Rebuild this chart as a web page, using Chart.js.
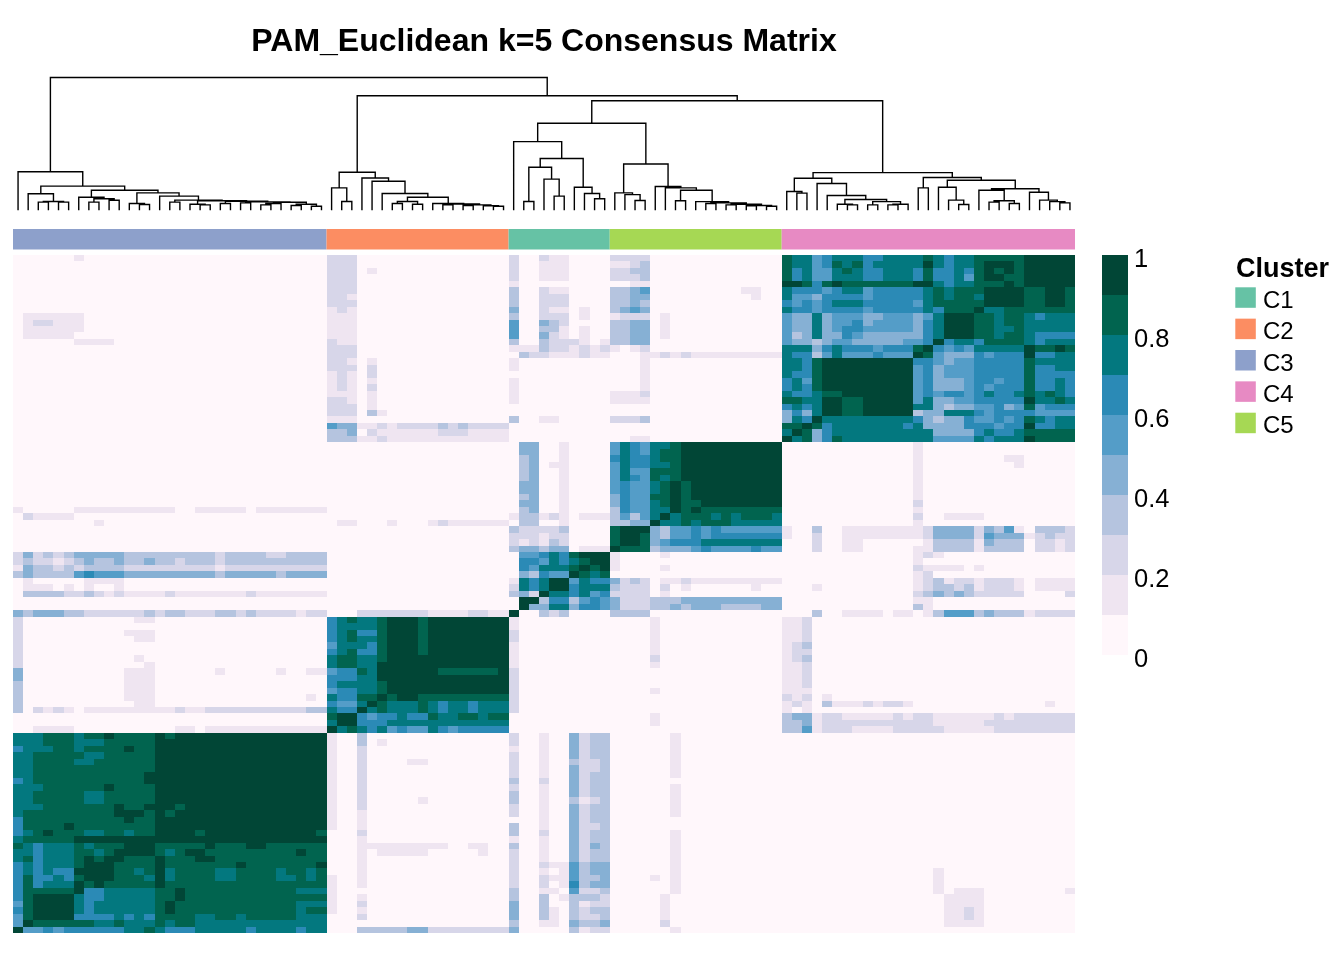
<!DOCTYPE html>
<html>
<head>
<meta charset="utf-8">
<script src="https://cdn.jsdelivr.net/npm/chart.js@4.4.1/dist/chart.umd.min.js"></script>
<style>html,body{margin:0;padding:0;background:#fff;}canvas{display:block;}</style>
</head>
<body>
<canvas id="c" width="1344" height="960"></canvas>
<script>
// ---------------- DATA ----------------
const TITLE = 'PAM_Euclidean k=5 Consensus Matrix';
const LEGEND_TITLE = 'Cluster';
const COLUMN_CLUSTERS = ['C3', 'C2', 'C1', 'C5', 'C4'];   // left -> right
const CLUSTER_SIZES = [31, 18, 10, 17, 29];
const ROW_CLUSTERS = ['C4', 'C5', 'C1', 'C2', 'C3'];      // top -> bottom
const LEGEND_CLUSTERS = ['C1', 'C2', 'C3', 'C4', 'C5'];
const CLUSTER_COLORS = ['#66C2A5', '#FC8D62', '#8DA0CB', '#E78AC3', '#A6D854']; // C1..C5
const LEVEL_COLORS = ['#FFF7FB', '#EFE5F1', '#D7D6E9', '#B5C4DF', '#86B0D4',
                      '#549DC8', '#2B8AB6', '#03787F', '#01644F', '#014636'];
const COLORBAR_TICKS = [0, 0.2, 0.4, 0.6, 0.8, 1];
const COLORBAR_LABELS = ['0', '0.2', '0.4', '0.6', '0.8', '1'];

// consensus level per cell (0..9 => 0-0.1 ... 0.9-1), column blocks C3|C2|C1|C5|C4, "d*n" = n repeats
const ROWS_C4 = [
"0*6 1 0*24 | 222 0*15 | 2002110000 | 2222 0*13 | 8775677766 7777876778 888899999",
"0*31 | 222 0*15 | 2001110000 | 1123 0*13 | 8775687867 7777976778 999899999",
"0*31 | 222 0 1 0*13 | 2001110000 | 2233 0*13 | 8675578766 7776866768 989899999",
"0*31 | 222 0*15 | 2001110000 | 2223 0*13 | 8675577766 7776866758 998899999",
"0*31 | 222 0*15 | 1000000000 | 0011 0*13 | 9986898888 8889976778 889899999",
"0*31 | 222 0*15 | 3002110000 | 3345 0*9 11 0*2 | 7666567756 6666787888 999988998",
"0*31 | 221 0*15 | 3002220000 | 3344 0*10 1 0*2 | 7554666656 6666787887 999988998",
"0*31 | 222 0*15 | 3002220000 | 3343 0*13 | 6565677766 6665788888 999988998",
"0*31 | 121 0*15 | 4002110100 | 3454 0*13 | 7665666656 6666768889 778888888",
"0 1*6 0*24 | 111 0*15 | 3002220100 | 1222 0 1 0*11 | 5447455544 5554579998 878876777",
"0 1 22 111 0*24 | 111 0*15 | 5004320000 | 3344 0 1 0*11 | 5447455645 5554679998 878877777",
"0 1*6 0*24 | 111 0*15 | 5003310100 | 3344 0 1 0*11 | 5447456655 5554679998 877877777",
"0 1*5 0*25 | 111 0*15 | 5004210100 | 3344 0 1 0*11 | 5347446544 4444679998 878876666",
"0*6 1*4 0*21 | 211 0*15 | 3003222101 | 3344 0*13 | 5443455444 4455696776 888876777",
"0*31 | 222 0*15 | 1113221212 | 1012 0*13 | 7774676665 6668965657 777798898",
"0*31 | 222 0*15 | 0322111211 | 0001 1 2 1 2 1*9 | 7663575556 5559854446 566696677",
"0*31 | 221 0 1 0*13 | 1000000000 | 0001 0*13 | 7768999999 9996654556 666687777",
"0*31 | 222 0 2 0*13 | 1000000000 | 0001 0*13 | 7768999999 9995645556 666686677",
"0*31 | 121 0 2 0*13 | 0000000000 | 0001 0*13 | 7668999999 9995645556 666686666",
"0*31 | 121 0 1 0*13 | 1000000000 | 0001 0*13 | 6758999999 9995644456 656686676",
"0*31 | 121 0 2 0*13 | 1000000000 | 0001 0*13 | 6768999999 9995644456 566686676",
"0*31 | 111 0 1 0*13 | 1000000000 | 1112 0*13 | 7667889999 9995656656 766787876",
"0*31 | 221 0 1 0*13 | 1000000000 | 1111 0*13 | 8877998899 9995744556 666697787",
"0*31 | 222 0 1 0*13 | 0000000000 | 0*17 | 6767998899 9997743445 564585666",
"0*31 | 222 0 3 1 0*12 | 0000000000 | 0*17 | 4647998899 9993447776 566665555",
"0*31 | 111 0*15 | 3001100000 | 2223 0*13 | 4769777777 7776434465 565687677",
"0*31 | 544 1 1 2 1 2222 3 2 3 2222 | 0000000000 | 0*17 | 8898677777 7767444466 656696677",
"0*31 | 334 0 2 111111 222 1111 | 0000000000 | 0*17 | 7984677777 7777744446 766788888",
"0*31 | 333 11 2 1*12 | 0000000000 | 0011 0*13 | 9784687777 7777755557 677798888"
];
const ROWS_C5 = [
"0*31 | 0*18 | 0440010000 | 5765778 9*10 | 0*13 1 0*15",
"0*31 | 0*18 | 0440010000 | 5765788 9*10 | 0*13 1 0*15",
"0*31 | 0*18 | 0340010000 | 6766788 9*10 | 0*13 1 0*8 11 0*5",
"0*31 | 0*18 | 0340110000 | 5766778 9*10 | 0*13 1 0*9 1 0*5",
"0*31 | 0*18 | 0340010000 | 5755888 9*10 | 0*13 1 0*15",
"0*31 | 0*18 | 0340010000 | 5765878 9*10 | 0*13 1 0*15",
"0*31 | 0*18 | 0440010000 | 5655789 8 9*9 | 0*13 1 0*15",
"0*31 | 0*18 | 0440010000 | 5655789 8 9*9 | 0*13 1 0*15",
"0*31 | 0*18 | 0340010000 | 4655889 8 9*9 | 0*13 1 0*15",
"0*31 | 0*18 | 0440010000 | 4655789 88 9*8 | 0*13 2 0*15",
"1 0*5 1*10 0*2 1*5 0 1*7 | 0*18 | 0340010000 | 3655779 8 9 8*8 | 0*13 1 0*15",
"0 2 1*4 0*25 | 0*18 | 1331210111 | 3535797 8 88 7 8 7 888 7 | 0*13 2 00 1111 0*9",
"0*8 1 0*22 | 0 11 000 1 000 1 2 111111 | 0330010000 | 3344977 8 7 888 77777 | 0*13 1 0*15",
"0*31 | 0*18 | 3222230000 | 8999435 5 6 5 6 555555 | 1 00 3 00 1*8 2 4444 2 4 3 5 1 0 333 2",
"0*31 | 0*18 | 2221220000 | 8998435 5 6 5 6 666666 | 1 00 2 00 1*8 2 4444 2 5 444 1 2 3 22",
"0*31 | 0*18 | 2121320000 | 8998456 6 6 77777777 | 000 2 00 11 0*6 1 3333 1 4 333 0 22 1 2",
"0*31 | 0*18 | 3443440111 | 9888344 4 5 6 5 555 6 55 | 000 2 00 11 0*5 1 1 3333 1 3333 0 22 1 2"
];
const ROWS_C1 = [
"242323 44444 3*9 2 3333 22 3333 | 0*18 | 0556768999 | 1 0000 1 0*11 | 0*13 121 0*13",
"232212 3 4 33 4 33 4 33 2 333 2 3*10 | 0*18 | 0665767899 | 1 0*16 | 0*13 1 0*15",
"143323 2 3333 2*9 1 2*10 | 0*18 | 0657778989 | 1 0000 1 0*11 | 0*13 2 1111 0 1 0*9",
"343333 5 6 555 4*9 3 44444 3 4444 | 0*18 | 0436559878 | 0*17 | 0*13 12 0*14",
"0 1 00000 1111 0*20 | 0*18 | 1767995766 | 4232 0 11 2 1*9 | 0*13 1 2 3 1 22 1 222 1 0 1111",
"0 111 0 1 0 1 00 1 0*20 | 0*18 | 2767996777 | 3222 0 2 0 1 000000 1 00 | 000 1 0*9 1 2 33 2 3 1 222 1 0 1111",
"0 3333 22 3 2 1 2 1111 2 1*7 2 1*7 | 0*18 | 3429776756 | 2222 0 1 0*11 | 0*13 2 3 4 3 4 3 22222 0000 2",
"0*31 | 0*18 | 0993663565 | 4222 333 4*10 | 0*13 11 0*14",
"0*31 | 0*18 | 0944774665 | 4222 33 4 3 444 3333 44 | 0*13 31 0*14",
"43444 33 222222 3 2 33 222 33 2 3 2222 1 22 | 000 2*7 1111 22 11 | 9003230000 | 3333 0*13 | 000 3 00 1111 0 11 0 1 3 555 3 4 333 1 2222"
];
const ROWS_C2 = [
"2 0*11 11 0*17 | 678778999 8 99999999 | 1 0*9 | 0000 1 0*12 | 112 0*26",
"2 0*30 | 677778999 8 99999999 | 1 0*9 | 0000 1 0*12 | 112 0*26",
"2 0*10 111 0*17 | 678668999 8 99999999 | 2 0*9 | 0000 1 0*12 | 112 0*26",
"2 0*11 11 0*17 | 678778999 8 99999999 | 2 0*9 | 0000 1 0*12 | 112 0*26",
"2 0*30 | 577768999 8 99999999 | 1 0*9 | 0000 1 0*12 | 123 0*26",
"2 0*30 | 678668999 8 99999999 | 1 0*9 | 0000 1 0*12 | 122 0*26",
"2 0*11 1 0*18 | 788778999 9 99999999 | 1 0*9 | 0000 2 0*12 | 123 0*26",
"2 0*12 1 0*17 | 788779999 9 99999999 | 1 0*9 | 0000 1 0*12 | 112 0*26",
"4 0*10 111 0*6 1 00000 1 00 11 | 566879999 99 888888 9 | 2 0*9 | 0*17 | 112 0*26",
"4 0*10 111 0*17 | 666779999 9 99999999 | 2 0*9 | 0*17 | 112 0*26",
"3 0*10 111 0*17 | 677778999 9 99999999 | 2 0*9 | 0*17 | 112 0*26",
"3 0*10 111 0*17 | 566778999 9 99999999 | 2 0*9 | 0000 1 0*12 | 111 0*26",
"3 0*10 111 0*15 1 0 | 766889899 8 88888888 | 2 0*9 | 0*17 | 212 0 1 0*24",
"3 0*11 11 0*17 | 655798777 876776777 | 2 0*9 | 0*17 | 121 0 3 111 2 1 2 2 1 0*13 1 00",
"3 0 2 1 2 1 0 1*9 2 11 2*10 33 | 766978777 876776777 | 2 0*9 | 0*17 | 101 0*26",
"0*31 | 899656676 687788788 | 0*10 | 0000 1 0*12 | 3441221111 1212211111 121222222",
"0*31 | 799666777 777777777 | 0*10 | 0000 1 0*12 | 3341222222 2222211111 222222222",
"00 1111 0*10 11 0 1*12 | 978767565 576566666 | 0*10 | 0*17 | 3351222111 1222221111 122222222"
];
const ROWS_C3 = [
"777 888 7 88 9 8888 9 8 9*15 | 1 00 3 0*14 | 2001004233 | 0000 001 0*10 | 0*29",
"777 888 777 88888 9*17 | 1 00 3 0 1 0*12 | 2001004233 | 0000 001 0*10 | 0*29",
"6 777 88 7 8888 9 88 9*17 | 1 00 2 0*14 | 1001004233 | 0000 001 0*10 | 0*29",
"77 88888 77 88888 9*17 | 1 00 2 0*14 | 2001004233 | 0000 001 0*10 | 0*29",
"77 8888 77 888888 9*17 | 1 00 2 0000 11 0*8 | 2001003223 | 0000 001 0*10 | 0*29",
"77 8*12 9*17 | 1 00 2 0*14 | 2001004223 | 0000 001 0*10 | 0*29",
"77 8*11 9*18 | 1 00 2 0*14 | 2001004233 | 0000 001 0*10 | 0*29",
"6 7 8*11 9*18 | 1 00 2 0*14 | 3002004233 | 0*17 | 0*29",
"777 888888 9 8888 9*17 | 1 00 2 0*14 | 2001004233 | 0000 001 0*10 | 0*29",
"77 88888 77 88888 9*17 | 1 00 2 0*14 | 3001004233 | 0000 001 0*10 | 0*29",
"77 88888 77 88888 9*17 | 1 00 2 00000 1 0*8 | 3001003123 | 0000 001 0*10 | 0*29",
"777 8888888 9 88 999 8 9*14 | 1 00 2 0*14 | 2001004233 | 0000 001 0*10 | 0*29",
"7 8*9 999 8 9 8 9*15 | 1 00 1 0*14 | 2001004233 | 0000 001 0*10 | 0*29",
"6 8*10 9 88 9*17 | 1 00 1 0*14 | 0001004233 | 0*17 | 0*29",
"6 8888 9 8*8 9*17 | 1 00 1 0*14 | 3001004223 | 0*17 | 0*29",
"6 7 8 9 888 77 88 7 88 9999 8 9*11 8 | 0 00 2 0*14 | 3002004233 | 0000 001 0*10 | 0*29",
"7 88888 9*25 | 0 00 1 0*14 | 1001004233 | 0000 001 0*10 | 0*29",
"8 7 6 777 8 7 888 999 88888 9 888 99 888888 | 000 1 11111111 00 11 00 | 3001004243 | 0000 001 0*10 | 0*29",
"77 6 777 88 7 8 9999 8 7 8 99 8*9 9 88 | 000 1 0 11111 00000 1 00 | 2001004233 | 0000 001 0*10 | 0*29",
"7 8 6 777 8 9 8 99 888 9 888 99 8*11 | 000 1 0*14 | 2001004233 | 0000 001 0*10 | 0*29",
"6 7 6 777 8 999 8888 9 8*7 9 8*7 9 | 000 1 0*14 | 2002115344 | 0000 001 0*10 | 0*29",
"6 7 6 7 66 9999 88 7 8 9 7 8888 77 8888 7 88 7 8 | 000 1 0*14 | 2001015344 | 0000 001 0*10 | 0*15 1 0*13",
"6 8 66 7 6 8 999 888 7 9 7 8888 77 8888 77 8 7 8 | 1 00 1 0*14 | 2002115334 | 0000 101 0*10 | 0*15 1 0*13",
"6 8 6 777 9 8 9 88888 9 8*16 | 1 00 1 0*14 | 2002016344 | 0000 001 0*10 | 0*15 1 0*13",
"6 8 8888 9 66 77777 88 9 8*11 777 | 1 00 0 0*14 | 3001105223 | 0000 001 0*10 | 0*15 1 0 111 0*8 1",
"6 8 9999 7 66 77777 88 9 8*14 | 1 00 1 0*14 | 3003013332 | 0000 010 0*10 | 0*16 1111 0*9",
"5 8 9999 7 6 777777 8 9 8*12 777 | 1 00 2 0*14 | 4003003122 | 0000 010 0*10 | 0*16 1111 0*9",
"6 8 9999 7 6 777777 8 9 8*12 7 88 | 1 00 1 0*14 | 4003103233 | 0000 010 0*10 | 0*16 1121 0*9",
"5 8 9999 6666 7 6 7 6 8888 77 88 7 88888 777 | 0 00 2 0*14 | 4003103223 | 0000 010 0*10 | 0*16 1121 0*9",
"5 9 888888 77 8 777 8 7 88 7*13 | 0*18 | 3001104334 | 0000 020 0*10 | 0*16 1111 0*9",
"9 55 6 5 666666 77 8 7 666 77777 6 7777 6 77 | 000 33333 44 2*8 | 4000003122 | 0000 001 0*10 | 0*29"
];

// dendrogram: [mergeHeight, left, right]; leaves are column indices; root height = 1
const C3_A  = [0.119, 1, [0.061, [0.056, 2, 3], [0.056, 4, 5]]];
const C3_B1 = [0.093, 6, [0.081, [0.056, 7, 8], [0.07, 9, 10]]];
const C3_B7 = [0.055, [0.045, [0.035, 24, 25], 26], [0.04, [0.03, 27, 28], [0.025, 29, 30]]];
const C3_B4 = [0.066, [0.04, 17, [0.035, 18, 19]], [0.062, [0.045, 20, 21], [0.058, [0.05, 22, 23], C3_B7]]];
const DENDRO_C3 = [0.286, 0, [0.177, C3_A, [0.146, C3_B1, [0.126, [0.045, 11, [0.038, 12, 13]], [0.101, 14, [0.071, [0.056, 15, 16], C3_B4]]]]]];
const C2_R4 = [0.093, [0.061, [0.045, 37, 38], [0.04, 39, 40]], [0.045, 41, [0.042, [0.035, 42, 43], [0.035, [0.03, 44, 45], [0.028, 46, [0.025, 47, 48]]]]]];
const DENDRO_C2 = [0.282, [0.164, 31, [0.061, 32, 33]], [0.239, 34, [0.214, 35, [0.121, 36, C2_R4]]]];
const DENDRO_C1 = [0.514, 49, [0.386, [0.32, [0.061, 50, 51], [0.23, 52, [0.101, 53, 54]]], [0.169, 55, [0.121, 56, [0.081, 57, 58]]]]];
const C5_TAIL = [0.05, [0.045, 68, 69], [0.04, [0.035, 70, 71], [0.03, [0.028, 72, 73], [0.025, 74, 75]]]];
const DENDRO_C5 = [0.345, [0.126, 59, [0.113, 60, [0.068, 61, 62]]], [0.174, 63, [0.164, 64, [0.146, [0.066, 65, 66], [0.06, 67, C5_TAIL]]]]];
const C4_L = [0.237, [0.136, 76, [0.124, 77, 78]], [0.197, 79, [0.106, 80, [0.076, [0.04, 81, [0.035, 82, 83]], [0.06, [0.035, 84, 85], [0.04, [0.035, 86, 87], 88]]]]]];
const C4_R = [0.242, [0.164, 89, 90], [0.222, [0.169, 91, [0.071, 92, [0.038, 93, 94]]], [0.157, [0.146, 95, [0.066, [0.056, 96, 97], [0.045, 98, 99]]], [0.131, 100, [0.071, 101, [0.06, 102, [0.05, 103, 104]]]]]]];
const DENDRO_C4 = [0.279, C4_L, C4_R];
const TOP_HEIGHTS = [1.0, 0.862, 0.824, 0.653]; // root, C2|rest, (C1,C5)|C4, C1|C5

// ---------------- BUILD ----------------
const problems = [];
function parseRow(s, idx) {
  const parts = s.split('|');
  let out = [];
  if (parts.length !== CLUSTER_SIZES.length) problems.push('row ' + idx + ' parts ' + parts.length);
  CLUSTER_SIZES.forEach((n, i) => {
    const seg = [];
    (parts[i] || '').trim().split(/\s+/).forEach(tok => {
      if (!tok) return;
      const m = tok.match(/^(\d)\*(\d+)$/);
      if (m) { for (let k = 0; k < +m[2]; k++) seg.push(+m[1]); }
      else { for (const ch of tok) seg.push(+ch); }
    });
    if (seg.length !== n) problems.push('row ' + idx + ' block ' + i + ' len ' + seg.length);
    while (seg.length < n) seg.push(0);
    seg.length = n;
    out = out.concat(seg);
  });
  return out;
}
const ROW_BLOCKS = { C4: ROWS_C4, C5: ROWS_C5, C1: ROWS_C1, C2: ROWS_C2, C3: ROWS_C3 };
const MATRIX = [];
ROW_CLUSTERS.forEach(k => ROW_BLOCKS[k].forEach(s => MATRIX.push(parseRow(s, MATRIX.length))));
const N = CLUSTER_SIZES.reduce((a, b) => a + b, 0);
if (MATRIX.length !== N) problems.push('rows ' + MATRIX.length);
const DENDRO = [TOP_HEIGHTS[0], DENDRO_C3, [TOP_HEIGHTS[1], DENDRO_C2,
               [TOP_HEIGHTS[2], [TOP_HEIGHTS[3], DENDRO_C1, DENDRO_C5], DENDRO_C4]]];

// ---------------- LAYOUT ----------------
const W = 1344, H = 960;
const HM = { left: 13, right: 1075, top: 255, bottom: 933 };
const ANNO = { top: 229, bottom: 249.5 };
const DEND = { base: 209.5, top: 77.5 };
const CB = { left: 1102, right: 1128, top: 255, bottom: 655 };
const FONT = '"Liberation Sans", Arial, Helvetica, sans-serif';
const dScale = (DEND.base - DEND.top);
const ydMin = (DEND.base - HM.bottom) / dScale;
const ydMax = ydMin + (HM.bottom - HM.top) / dScale;

const drawPlugin = {
  id: 'consensusHeatmap',
  beforeDraw(chart) {
    const c = chart.ctx;
    c.save(); c.fillStyle = '#ffffff'; c.fillRect(0, 0, W, H); c.restore();
  },
  afterDraw(chart) {
    const c = chart.ctx;
    const xs = chart.scales.x, ys = chart.scales.y, yd = chart.scales.yd;
    c.save();
    // heatmap cells
    const xe = [], ye = [];
    for (let i = 0; i <= N; i++) { xe.push(Math.round(xs.getPixelForValue(i))); ye.push(Math.round(ys.getPixelForValue(i))); }
    for (let r = 0; r < N; r++) {
      for (let col = 0; col < N; col++) {
        c.fillStyle = LEVEL_COLORS[MATRIX[r][col]];
        c.fillRect(xe[col], ye[r], xe[col + 1] - xe[col], ye[r + 1] - ye[r]);
      }
    }
    // annotation bar
    let start = 0;
    COLUMN_CLUSTERS.forEach((k, i) => {
      const x0 = xs.getPixelForValue(start), x1 = xs.getPixelForValue(start + CLUSTER_SIZES[i]);
      c.fillStyle = CLUSTER_COLORS[LEGEND_CLUSTERS.indexOf(k)];
      c.fillRect(x0, ANNO.top, x1 - x0, ANNO.bottom - ANNO.top);
      start += CLUSTER_SIZES[i];
    });
    // dendrogram
    c.strokeStyle = '#000000'; c.lineWidth = 1.4; c.lineCap = 'square';
    c.beginPath();
    function walk(node) {
      if (typeof node === 'number') return { x: xs.getPixelForValue(node + 0.5), h: 0 };
      const l = walk(node[1]), r = walk(node[2]);
      const py = yd.getPixelForValue(node[0]);
      c.moveTo(l.x, yd.getPixelForValue(l.h)); c.lineTo(l.x, py);
      c.lineTo(r.x, py); c.lineTo(r.x, yd.getPixelForValue(r.h));
      return { x: (l.x + r.x) / 2, h: node[0] };
    }
    walk(DENDRO);
    c.stroke();
    // title
    c.fillStyle = '#000000';
    c.font = 'bold 32px ' + FONT; c.textAlign = 'center'; c.textBaseline = 'alphabetic';
    c.fillText(TITLE, (HM.left + HM.right) / 2, 51);
    // colour bar
    const cbY = v => CB.bottom - v * (CB.bottom - CB.top);
    LEVEL_COLORS.forEach((col, i) => {
      c.fillStyle = col;
      const y0 = cbY((i + 1) / LEVEL_COLORS.length), y1 = cbY(i / LEVEL_COLORS.length);
      c.fillRect(CB.left, y0, CB.right - CB.left, y1 - y0);
    });
    c.fillStyle = '#000000'; c.font = '25.5px ' + FONT; c.textAlign = 'left';
    COLORBAR_TICKS.forEach((t, i) => c.fillText(COLORBAR_LABELS[i], CB.right + 6, cbY(t) + 11.5));
    // cluster legend
    c.font = 'bold 27px ' + FONT;
    c.fillText(LEGEND_TITLE, 1236, 277);
    c.font = '24px ' + FONT;
    LEGEND_CLUSTERS.forEach((k, i) => {
      const top = 287.3 + i * 31.35;
      c.fillStyle = CLUSTER_COLORS[i];
      c.fillRect(1235.3, top, 20.5, 20.5);
      c.fillStyle = '#000000';
      c.fillText(k, 1263, top + 20.5);
    });
    c.restore();
  }
};

const chart = new Chart(document.getElementById('c').getContext('2d'), {
  type: 'scatter',
  data: { datasets: [] },
  options: {
    responsive: false, animation: false, devicePixelRatio: 1,
    layout: { padding: { left: HM.left, right: W - HM.right, top: HM.top, bottom: H - HM.bottom } },
    plugins: { legend: { display: false }, tooltip: { enabled: false }, title: { display: false } },
    scales: {
      x: { type: 'linear', min: 0, max: N, display: false },
      y: { type: 'linear', min: 0, max: N, reverse: true, display: false },
      yd: { type: 'linear', axis: 'y', position: 'left', min: ydMin, max: ydMax, display: false }
    }
  },
  plugins: [drawPlugin]
});
if (problems.length) throw new Error('DATA CHECK: ' + problems.join('; '));
</script>
</body>
</html>
